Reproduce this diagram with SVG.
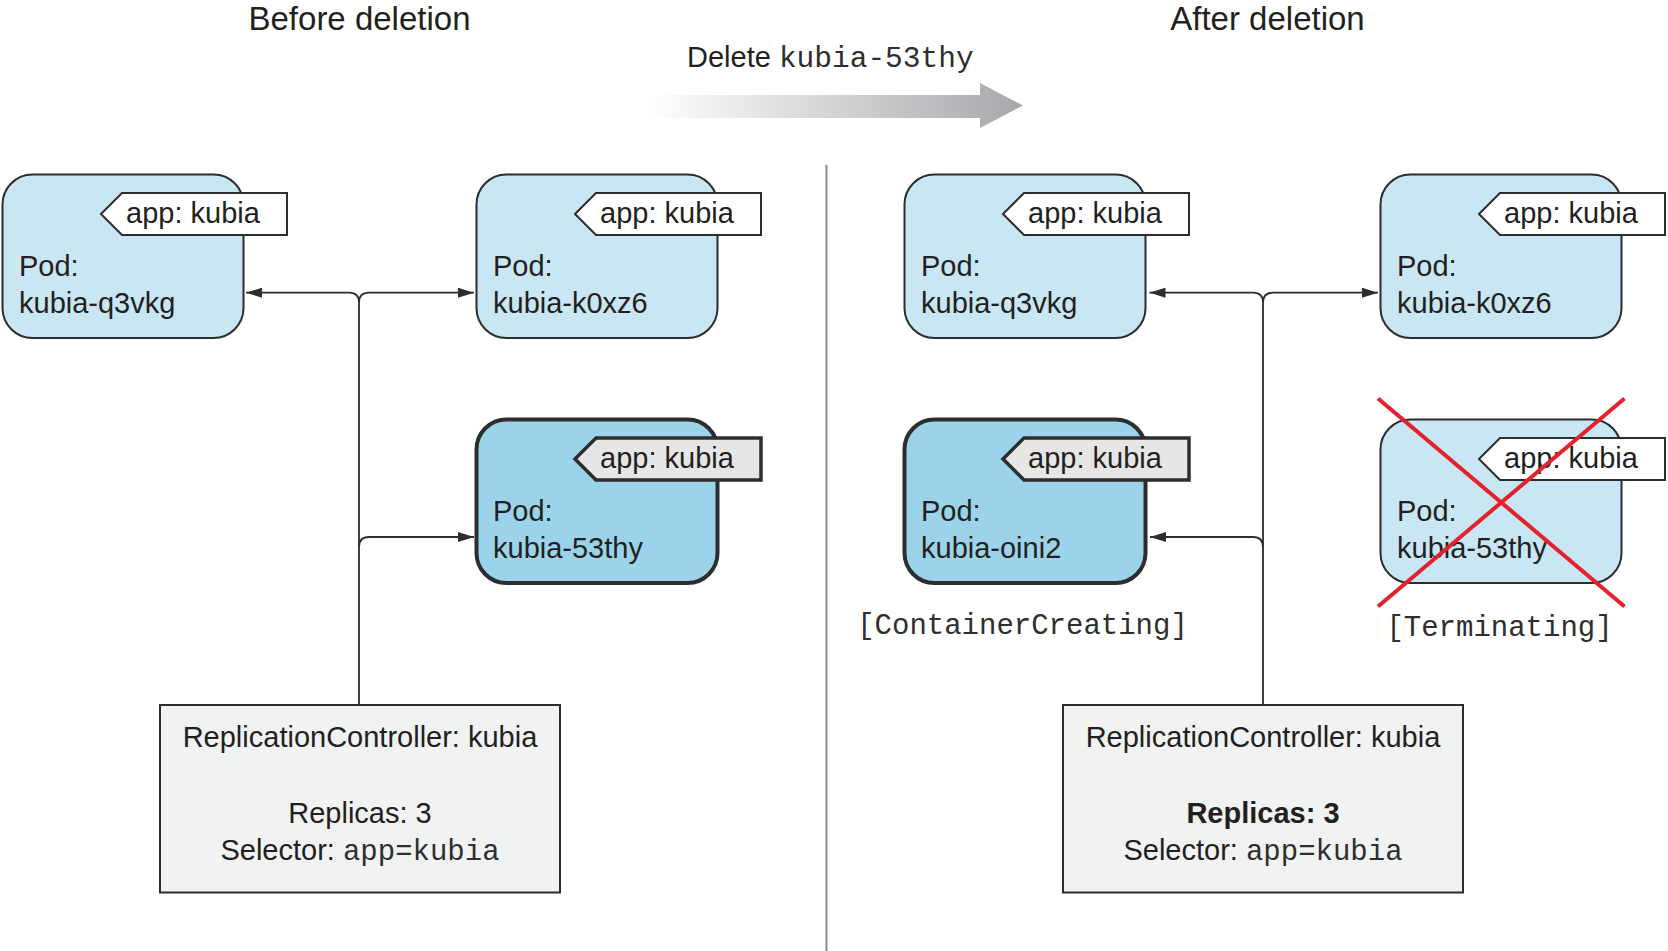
<svg xmlns="http://www.w3.org/2000/svg" width="1668" height="951" viewBox="0 0 1668 951">
<style>
text{font-family:"Liberation Sans",Arial,sans-serif;fill:#231f20;}
.h{font-size:33px;text-anchor:middle;}
.t{font-size:29px;}
.m{font-family:"Liberation Mono","Courier New",monospace;fill:#2e2e2e;}
.pod{fill:#c9e6f4;stroke:#2d2d2d;stroke-width:2;}
.podb{fill:#9bd4ea;stroke:#2d2d2d;stroke-width:4;}
.tag{fill:#ffffff;stroke:#2d2d2d;stroke-width:2;}
.tagb{fill:#e6e6e6;stroke:#2d2d2d;stroke-width:3.5;}
.rc{fill:#f1f2f2;stroke:#2d2d2d;stroke-width:2;}
.c{fill:none;stroke:#2d2d2d;stroke-width:1.8;}
.mid{text-anchor:middle;}
</style>
<defs>
<marker id="ah" viewBox="0 0 16 10" refX="16" refY="5" markerWidth="16" markerHeight="10" markerUnits="userSpaceOnUse" orient="auto">
<path d="M0,0 L16,5 L0,10 Z" fill="#2d2d2d"/>
</marker>
<linearGradient id="g" x1="0" y1="0" x2="1" y2="0">
<stop offset="0" stop-color="#ffffff"/>
<stop offset="1" stop-color="#a6a8ab"/>
</linearGradient>
</defs>

<g id="headings">
<text class="h" x="359.5" y="29.5">Before deletion</text>
<text class="h" x="1267.5" y="29.5">After deletion</text>
<text x="687" y="67" style="font-size:29px">Delete <tspan class="m" style="font-size:29.5px">kubia-53thy</tspan></text>
<path d="M647,95 H980 V83 L1023,105.5 L980,128 V118 H647 Z" fill="url(#g)"/>
</g>

<line id="divider" x1="826.5" y1="165" x2="826.5" y2="951" stroke="#8a8a8a" stroke-width="2"/>

<g id="connectors">
<path class="c" d="M359,704 V302.7 Q359,292.7 349,292.7 H246" marker-end="url(#ah)"/>
<path class="c" d="M359,302.7 Q359,292.7 369,292.7 H474" marker-end="url(#ah)"/>
<path class="c" d="M359,547 Q359,537 369,537 H474" marker-end="url(#ah)"/>
<path class="c" d="M1263,704 V302.7 Q1263,292.7 1253,292.7 H1149.5" marker-end="url(#ah)"/>
<path class="c" d="M1263,302.7 Q1263,292.7 1273,292.7 H1378" marker-end="url(#ah)"/>
<path class="c" d="M1263,547 Q1263,537 1253,537 H1150" marker-end="url(#ah)"/>
</g>

<g id="pod-left-q3vkg" transform="translate(2.5,174.5)">
<rect class="pod" x="0" y="0" width="241" height="163.5" rx="30"/>
<polygon class="tag" points="98.5,39.5 119.5,18.5 284.5,18.5 284.5,60.5 119.5,60.5"/>
<text class="t" x="123.5" y="48">app: kubia</text>
<text class="t" x="16.5" y="101.5">Pod:</text>
<text class="t" x="16.5" y="138">kubia-q3vkg</text>
</g>

<g id="pod-left-k0xz6" transform="translate(476.5,174.5)">
<rect class="pod" x="0" y="0" width="241" height="163.5" rx="30"/>
<polygon class="tag" points="98.5,39.5 119.5,18.5 284.5,18.5 284.5,60.5 119.5,60.5"/>
<text class="t" x="123.5" y="48">app: kubia</text>
<text class="t" x="16.5" y="101.5">Pod:</text>
<text class="t" x="16.5" y="138">kubia-k0xz6</text>
</g>

<g id="pod-left-53thy" transform="translate(476.5,419.5)">
<rect class="podb" x="0" y="0" width="241" height="163.5" rx="30"/>
<polygon class="tagb" points="98.5,39.5 119.5,18.5 284.5,18.5 284.5,60.5 119.5,60.5"/>
<text class="t" x="123.5" y="48">app: kubia</text>
<text class="t" x="16.5" y="101.5">Pod:</text>
<text class="t" x="16.5" y="138">kubia-53thy</text>
</g>

<g id="rc-left">
<rect class="rc" x="160" y="705" width="400" height="187.5"/>
<text class="t mid" x="360" y="747">ReplicationController: kubia</text>
<text class="t mid" x="360" y="823">Replicas: 3</text>
<text class="t mid" x="360" y="860">Selector: <tspan class="m">app=kubia</tspan></text>
</g>

<g id="pod-right-q3vkg" transform="translate(904.5,174.5)">
<rect class="pod" x="0" y="0" width="241" height="163.5" rx="30"/>
<polygon class="tag" points="98.5,39.5 119.5,18.5 284.5,18.5 284.5,60.5 119.5,60.5"/>
<text class="t" x="123.5" y="48">app: kubia</text>
<text class="t" x="16.5" y="101.5">Pod:</text>
<text class="t" x="16.5" y="138">kubia-q3vkg</text>
</g>

<g id="pod-right-k0xz6" transform="translate(1380.5,174.5)">
<rect class="pod" x="0" y="0" width="241" height="163.5" rx="30"/>
<polygon class="tag" points="98.5,39.5 119.5,18.5 284.5,18.5 284.5,60.5 119.5,60.5"/>
<text class="t" x="123.5" y="48">app: kubia</text>
<text class="t" x="16.5" y="101.5">Pod:</text>
<text class="t" x="16.5" y="138">kubia-k0xz6</text>
</g>

<g id="pod-right-oini2" transform="translate(904.5,419.5)">
<rect class="podb" x="0" y="0" width="241" height="163.5" rx="30"/>
<polygon class="tagb" points="98.5,39.5 119.5,18.5 284.5,18.5 284.5,60.5 119.5,60.5"/>
<text class="t" x="123.5" y="48">app: kubia</text>
<text class="t" x="16.5" y="101.5">Pod:</text>
<text class="t" x="16.5" y="138">kubia-oini2</text>
<text class="t m mid" x="118" y="214.5" style="font-size:29px">[ContainerCreating]</text>
</g>

<g id="pod-right-53thy" transform="translate(1380.5,419.5)">
<rect class="pod" x="0" y="0" width="241" height="163.5" rx="30"/>
<polygon class="tag" points="98.5,39.5 119.5,18.5 284.5,18.5 284.5,60.5 119.5,60.5"/>
<text class="t" x="123.5" y="48">app: kubia</text>
<text class="t" x="16.5" y="101.5">Pod:</text>
<text class="t" x="16.5" y="138">kubia-53thy</text>
<text class="t m mid" x="119" y="216" style="font-size:29px">[Terminating]</text>
<line x1="-2.5" y1="-21" x2="244" y2="187" stroke="#e3222b" stroke-width="4"/>
<line x1="244" y1="-21" x2="-2.5" y2="187" stroke="#e3222b" stroke-width="4"/>
</g>

<g id="rc-right">
<rect class="rc" x="1063" y="705" width="400" height="187.5"/>
<text class="t mid" x="1263" y="747">ReplicationController: kubia</text>
<text class="t mid" x="1263" y="823" font-weight="bold">Replicas: 3</text>
<text class="t mid" x="1263" y="860">Selector: <tspan class="m">app=kubia</tspan></text>
</g>
</svg>
